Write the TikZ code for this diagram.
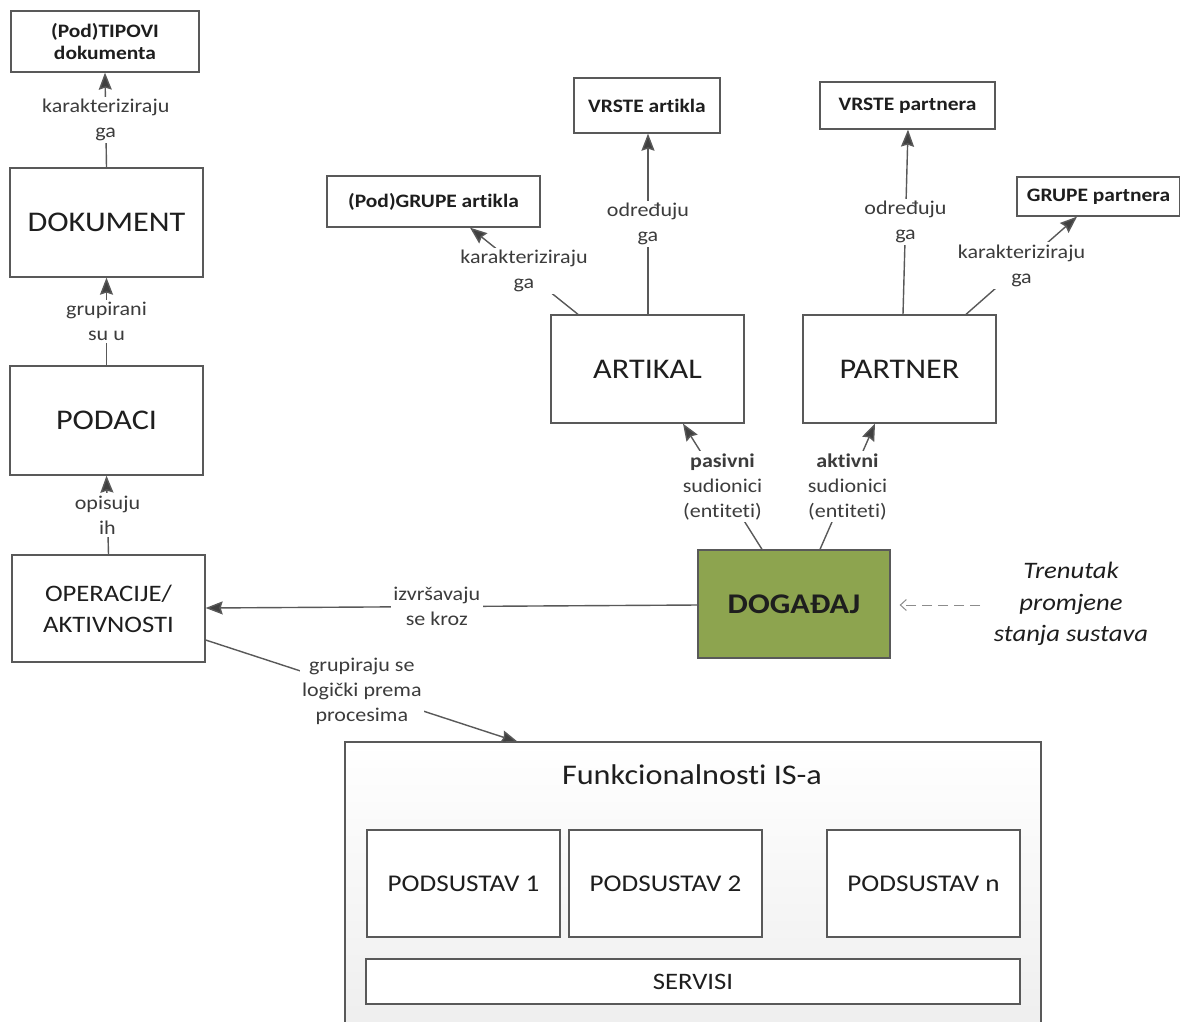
\documentclass[tikz,border=0pt]{standalone}
\usepackage{fontspec}
\setmainfont{Carlito}[FakeStretch=1.13, Ligatures={NoCommon}]
\usetikzlibrary{arrows.meta}
\definecolor{lncol}{HTML}{595959}
\definecolor{tipcol}{HTML}{404040}
\definecolor{txtcol}{HTML}{1E1E1E}
\definecolor{lblcol}{HTML}{3C3C3C}
\definecolor{evgreen}{HTML}{8DA44F}
\tikzset{
  box/.style={draw=lncol, line width=1.3pt, fill=white, rectangle, inner sep=0pt, text=txtcol, align=center},
  smallbox/.style={box, font=\fontsize{19}{22}\selectfont\bfseries},
  bigbox/.style={box, font=\fontsize{28.5}{34}\selectfont},
  subbox/.style={box, font=\fontsize{24}{28}\selectfont},
  conn/.style={draw=lncol, line width=1.4pt, -{Stealth[length=17pt,width=13pt,inset=2pt,fill=tipcol]}},
  lbl/.style={fill=white, inner sep=2.5pt, text=lblcol, align=center, font=\fontsize{19.5}{25}\selectfont},
}
\begin{document}
\begin{tikzpicture}[x=1pt,y=-1pt]
\clip (0,0) rectangle (1180,1021);
\fill[white] (0,0) rectangle (1180,1021);

% outer functionality box
\shade[top color=white, bottom color=black!7, draw=lncol, line width=1.3pt] (345,742) rectangle (1041,1045);
\node[text=txtcol, font=\fontsize{28.5}{32}\selectfont] (funt) at (692,775) {Funkcionalnosti IS-a};
\coordinate (funtop) at (518,742);

% left column
\node[smallbox, minimum width=188pt, minimum height=61pt] (tip) at (105,41.5) {(Pod)TIPOVI\\dokumenta};
\node[bigbox, minimum width=193pt, minimum height=109pt] (dok) at (106.5,222.5) {DOKUMENT};
\node[bigbox, minimum width=193pt, minimum height=109pt] (pod) at (106.5,420.5) {PODACI};
\node[box, font=\fontsize{23.6}{31}\selectfont, minimum width=193pt, minimum height=107pt] (ope) at (108.5,608.5) {OPERACIJE/\\AKTIVNOSTI};

% right part
\node[smallbox, minimum width=213pt, minimum height=51pt] (grpA) at (433.5,201.5) {(Pod)GRUPE artikla};
\node[smallbox, minimum width=146pt, minimum height=55pt] (vrA) at (647,105.5) {VRSTE artikla};
\node[bigbox, minimum width=193pt, minimum height=108pt] (art) at (647.5,369) {ARTIKAL};
\node[smallbox, minimum width=175pt, minimum height=47pt] (vrP) at (907.5,105.5) {VRSTE partnera};
\node[smallbox, minimum width=163pt, minimum height=39pt] (grpP) at (1098.5,196.5) {GRUPE partnera};
\node[bigbox, minimum width=193pt, minimum height=108pt] (par) at (899.5,369) {PARTNER};
\node[box, fill=evgreen, font=\fontsize{28.5}{32}\selectfont\bfseries, minimum width=192pt, minimum height=108pt] (dog) at (794,604) {DOGAĐAJ};

% subsystems
\node[subbox, minimum width=193pt, minimum height=107pt] (ps1) at (463.5,883.5) {PODSUSTAV 1};
\node[subbox, minimum width=193pt, minimum height=107pt] (ps2) at (665.5,883.5) {PODSUSTAV 2};
\node[subbox, minimum width=193pt, minimum height=107pt] (psn) at (923.5,883.5) {PODSUSTAV n};
\node[box, font=\fontsize{23.6}{27}\selectfont, minimum width=654pt, minimum height=45pt] (ser) at (693,981.5) {SERVISI};

% annotation
\node[text=txtcol, align=center, font=\fontsize{23.6}{31.5}\selectfont\itshape] (trn) at (1071,604) {Trenutak\\promjene\\stanja sustava};
\coordinate (dstart) at (980,605);

% connectors
\path[conn] (dok.north) -- node[lbl]{karakteriziraju\\ga} (tip.south);
\path[conn] (pod.north) -- node[lbl]{grupirani\\su u} (dok.south);
\path[conn] (ope.north) -- node[lbl]{opisuju\\ih} (pod.south);
\path[conn] ([yshift=-1pt]dog.west) -- node[lbl, pos=0.53]{izvršavaju\\se kroz} ([yshift=0.5pt]ope.east);
\path[conn] ([yshift=-31.5pt]ope.east) -- node[lbl]{grupiraju se\\logički prema\\procesima} (funtop);
\path[conn] ([xshift=0.5pt]art.north) -- node[lbl]{određuju\\ga} ([xshift=1pt]vrA.south);
\path[conn] ([xshift=-69.5pt]art.north) -- node[lbl]{karakteriziraju\\ga} ([xshift=36.5pt]grpA.south);
\path[conn] ([xshift=3.5pt]par.north) -- node[lbl]{određuju\\ga} ([xshift=0.5pt]vrP.south);
\path[conn] ([xshift=66.5pt]par.north) -- node[lbl]{karakteriziraju\\ga} ([xshift=-21.5pt]grpP.south);
\path[conn] ([xshift=-32pt]dog.north) -- node[lbl]{\textbf{pasivni}\\sudionici\\(entiteti)} ([xshift=35.5pt]art.south);
\path[conn] ([xshift=26pt]dog.north) -- node[lbl]{\textbf{aktivni}\\sudionici\\(entiteti)} ([xshift=-24.5pt]par.south);
\draw[draw=black!45, line width=1pt, dash pattern=on 10pt off 6pt, -{Straight Barb[length=6pt,width=11pt]}] (dstart) -- ([xshift=9pt,yshift=-1pt]dog.east);
\end{tikzpicture}
\end{document}
